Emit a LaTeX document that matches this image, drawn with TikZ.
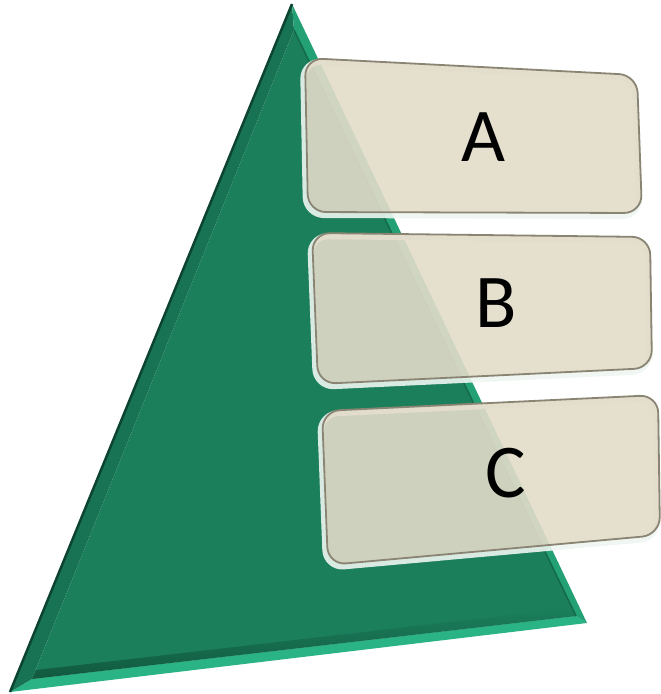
\documentclass[tikz,border=0pt]{standalone}
\usepackage{fontspec}
\setmainfont{Carlito}
\definecolor{facegreen}{HTML}{1B7F5C}
\definecolor{leftgreen}{HTML}{187354}
\definecolor{darkgreen}{HTML}{0C4430}
\definecolor{rightgreen}{HTML}{23A074}
\definecolor{bottomgreen}{HTML}{2AB384}
\definecolor{panelfill}{HTML}{E2DBC9}
\definecolor{panelline}{HTML}{8A8473}
\definecolor{panelrim}{HTML}{EEF6F1}
\tikzset{
  panelband/.style={draw=panelrim, line width=6pt, rounded corners=18pt, opacity=0.9},
  panelbody/.style={fill=panelfill, fill opacity=0.9, rounded corners=18pt},
  panelborder/.style={draw=panelline, line width=1.8pt, rounded corners=18pt},
  letter/.style={font=\fontsize{76}{76}\selectfont, text=black, inner sep=0pt}
}
\newcommand\drawpanelbox[4]{%
  \draw[panelband, xshift=-2pt, yshift=-3pt] #1 -- #2 -- #3 -- #4 -- cycle;
  \fill[panelbody] #1 -- #2 -- #3 -- #4 -- cycle;
  \draw[panelborder] #1 -- #2 -- #3 -- #4 -- cycle;
}
\begin{document}
\begin{tikzpicture}[x=1pt,y=-1pt]
\useasboundingbox (0,0) rectangle (661,694);
% pyramid outer and inner corners
\coordinate (P) at (292,4);
\coordinate (L) at (10,692);
\coordinate (R) at (587,623);
\coordinate (p) at (294,30);
\coordinate (l) at (32,679);
\coordinate (r) at (576,616);
\coordinate (ls) at (36,670);
\coordinate (rs) at (571,608);
% bevel faces
\fill[bottomgreen] (L) -- (R) -- (r) -- (l) -- cycle;
\fill[leftgreen] (P) -- (L) -- (l) -- (p) -- cycle;
\fill[rightgreen] (P) -- (p) -- (r) -- (R) -- cycle;
\fill[facegreen] (p) -- (l) -- (r) -- cycle;
% shadow along the inner bottom edge
\shade[top color=facegreen, bottom color=darkgreen!65!facegreen] (ls) -- (rs) -- (r) -- (l) -- cycle;
\draw[darkgreen, line width=2.5pt] (P) -- (L);
\draw[darkgreen!60!rightgreen, line width=1.5pt] (p) -- (r);
% panels
\drawpanelbox{(305,58)}{(637,75)}{(642,213)}{(308,212)}
\drawpanelbox{(312,233)}{(650,237)}{(652,368)}{(318,384)}
\drawpanelbox{(322,411)}{(658,395)}{(660,535)}{(328,565)}
% labels
\node[letter] (A) at (483,137) {A};
\node[letter] (B) at (496,303) {B};
\node[letter] (C) at (506,473) {C};
\end{tikzpicture}
\end{document}
